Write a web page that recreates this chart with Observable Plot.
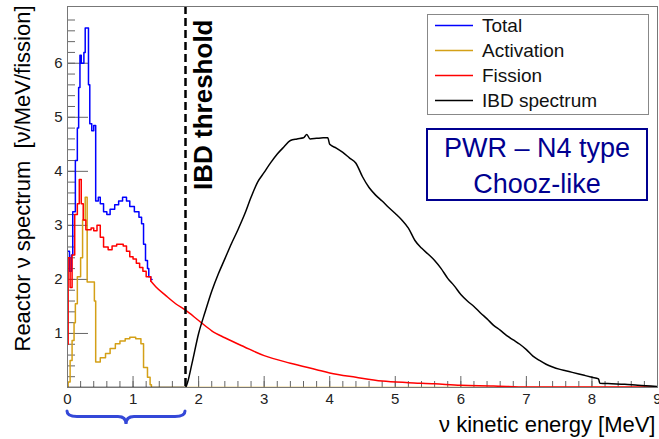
<!DOCTYPE html>
<html><head><meta charset="utf-8">
<script src="https://cdn.jsdelivr.net/npm/d3@7"></script>
<script src="https://cdn.jsdelivr.net/npm/@observablehq/plot@0.6"></script>
<style>html,body{margin:0;padding:0;background:#fff;} #chart{width:659px;height:439px;overflow:hidden;}</style>
</head><body><div id="chart"></div>
<script>
// ---- data ----
// Total spectrum (histogram, step-after) [MeV, ν/MeV/fission]
const totalSpec = [[0,2.52],[0.03,2.15],[0.06,2.45],[0.08,3.25],[0.12,4.2],[0.15,4.8],[0.17,5.55],[0.19,6.15],[0.21,6.0],[0.25,6.2],[0.27,6.65],[0.32,5.6],[0.34,4.88],[0.37,4.75],[0.4,4.85],[0.43,3.45],[0.47,3.52],[0.5,3.4],[0.55,3.25],[0.6,3.2],[0.65,3.3],[0.72,3.38],[0.78,3.45],[0.84,3.52],[0.9,3.45],[0.95,3.35],[1.02,3.25],[1.09,3.15],[1.13,3.03],[1.16,2.65],[1.19,2.35],[1.22,2.2],[1.24,2.05],[1.27,2.0],[1.29,2.0]];
// Activation spectrum (step-after)
const activationSpec = [[0,0],[0.01,0.1],[0.04,0.5],[0.07,0.87],[0.1,1.2],[0.12,1.55],[0.15,2.05],[0.2,2.4],[0.23,3.1],[0.27,3.52],[0.3,1.95],[0.41,1.6],[0.43,0.47],[0.5,0.55],[0.58,0.63],[0.65,0.72],[0.73,0.81],[0.8,0.86],[0.88,0.9],[0.95,0.93],[1.04,0.9],[1.12,0.81],[1.16,0.37],[1.22,0.19],[1.26,0.05],[1.28,0],[9,0]];
// Fission spectrum, low-energy part (step-after) and tail (smooth)
const fissionLow = [[0,0.8],[0.01,2.4],[0.04,1.85],[0.07,2.45],[0.11,3.2],[0.15,3.4],[0.18,3.85],[0.21,3.4],[0.24,3.1],[0.28,2.92],[0.36,2.95],[0.4,2.9],[0.45,3.0],[0.5,2.78],[0.55,2.6],[0.62,2.55],[0.68,2.62],[0.75,2.65],[0.85,2.62],[0.9,2.52],[0.95,2.42],[1.0,2.38],[1.05,2.3],[1.1,2.22],[1.15,2.15],[1.2,2.05],[1.27,1.97]];
const fissionTail = [[1.27,1.97],[1.35,1.86],[1.5,1.7],[1.65,1.55],[1.8,1.43],[2.0,1.24],[2.2,1.05],[2.4,0.92],[2.7,0.75],[3.0,0.59],[3.4,0.45],[3.8,0.33],[4.0,0.27],[4.4,0.19],[4.8,0.12],[5.2,0.09],[5.6,0.07],[6.0,0.04],[6.5,0.03],[7.0,0.01],[9,0.01]];
// IBD spectrum (arbitrary units)
const ibdSpec = [[0,0],[1.8,0],[1.82,0.05],[1.9,0.45],[2.0,1.0],[2.1,1.4],[2.2,1.78],[2.3,2.1],[2.4,2.38],[2.5,2.66],[2.6,2.92],[2.7,3.2],[2.8,3.52],[2.9,3.8],[3.0,3.98],[3.1,4.16],[3.2,4.32],[3.3,4.45],[3.4,4.57],[3.5,4.6],[3.6,4.62],[3.65,4.68],[3.7,4.6],[3.8,4.61],[3.9,4.62],[3.97,4.62],[4.0,4.5],[4.1,4.43],[4.2,4.35],[4.3,4.25],[4.4,4.15],[4.5,3.9],[4.6,3.7],[4.7,3.56],[4.8,3.45],[4.9,3.33],[5.0,3.22],[5.1,3.1],[5.2,2.95],[5.3,2.72],[5.4,2.58],[5.5,2.47],[5.6,2.35],[5.7,2.2],[5.8,2.02],[5.9,1.88],[6.0,1.72],[6.1,1.6],[6.2,1.5],[6.3,1.38],[6.4,1.27],[6.5,1.15],[6.6,1.06],[6.7,0.96],[6.8,0.88],[6.9,0.8],[7.0,0.7],[7.1,0.58],[7.2,0.5],[7.3,0.43],[7.4,0.38],[7.5,0.34],[7.6,0.31],[7.7,0.28],[7.8,0.25],[7.9,0.22],[8.0,0.19],[8.1,0.16],[8.12,0.08],[8.3,0.07],[8.5,0.06],[8.7,0.04],[9.0,0.02]];
const threshold = [1.8];
const thresholdLabel = "IBD threshold";
const xTicks = [0,1,2,3,4,5,6,7,8,9];
const yTicks = [1,2,3,4,5,6];
const xMinor = d3.range(0, 9.001, 0.2);
const yMinor = d3.range(0.2, 7.0, 0.2);
const legendNames = ["Total","Activation","Fission","IBD spectrum"];
const legendColors = ["#0000ff","#d4a017","#ff0000","#000000"];
const boxLines = ["PWR \u2013 N4 type","Chooz-like"];
const xLabel = "\u03bd kinetic energy [MeV]";
const yLabel = "Reactor \u03bd spectrum  [\u03bd/MeV/fission]";

// ---- layout ----
const W = 659, H = 439, mL = 67, mR = 2, mT = 6, mB = 52;
const pw = W - mL - mR, ph = H - mT - mB;
const font = "'Liberation Sans', Arial, Helvetica, sans-serif";

const plot = Plot.plot({
  width: W, height: H,
  marginLeft: mL, marginRight: mR, marginTop: mT, marginBottom: mB,
  x: {domain: [0, 9]},
  y: {domain: [0, 7.05]},
  style: {fontFamily: font, background: "white", color: "#111"},
  marks: [
    Plot.ruleX(xMinor, {x: d => d, insetTop: ph - 6, stroke: "#666"}),
    Plot.ruleX(xTicks, {x: d => d, insetTop: ph - 11, stroke: "#666"}),
    Plot.ruleY(yMinor, {y: d => d, insetRight: pw - 8, stroke: "#666"}),
    Plot.ruleY(yTicks, {y: d => d, insetRight: pw - 21, stroke: "#666"}),
    Plot.axisX({ticks: xTicks, tickSize: 0, tickPadding: 6, fontSize: 15, label: null, fill: "#222", tickFormat: d => String(d)}),
    Plot.axisY({ticks: yTicks, tickSize: 0, tickPadding: 5, fontSize: 15, label: null, fill: "#222", tickFormat: d => String(d)}),
    Plot.line(totalSpec, {x: d => d[0], y: d => d[1], curve: "step-after", stroke: legendColors[0], strokeWidth: 1.5, clip: true}),
    Plot.line(activationSpec, {x: d => d[0], y: d => d[1], curve: "step-after", stroke: legendColors[1], strokeWidth: 1.5, clip: true}),
    Plot.line(fissionLow, {x: d => d[0], y: d => d[1], curve: "step-after", stroke: legendColors[2], strokeWidth: 1.5, clip: true}),
    Plot.line(fissionTail, {x: d => d[0], y: d => d[1], curve: "monotone-x", stroke: legendColors[2], strokeWidth: 1.5, clip: true}),
    Plot.line(ibdSpec, {x: d => d[0], y: d => d[1], curve: "monotone-x", stroke: legendColors[3], strokeWidth: 1.5, clip: true}),
    Plot.ruleX(threshold, {x: d => d, stroke: "black", strokeWidth: 2.5, strokeDasharray: "8,4"}),
    Plot.text(threshold, {x: d => d, frameAnchor: "top", text: () => thresholdLabel, rotate: -90, textAnchor: "end", lineAnchor: "middle", dx: 18, dy: 13, fontSize: 26, fontWeight: "bold", fill: "black"}),
    Plot.text([yLabel], {frameAnchor: "top-left", text: d => d, rotate: -90, textAnchor: "end", lineAnchor: "middle", dx: -45, dy: -1, fontSize: 22, fill: "black"}),
    Plot.text([xLabel], {frameAnchor: "bottom-right", text: d => d, textAnchor: "end", lineAnchor: "middle", dx: -2, dy: 37, fontSize: 22, fill: "black"}),
    Plot.frame({stroke: "#777"})
  ]
});

document.getElementById("chart").appendChild(plot);

// ---- legend, label box and brace (positioned via plot scales / pixels) ----
const svg = d3.select(plot);
const lg = svg.append("g").attr("font-family", font).attr("text-anchor", "start");
lg.append("rect").attr("x", 427.5).attr("y", 14.5).attr("width", 221).attr("height", 100)
  .attr("fill", "white").attr("stroke", "#888");
legendNames.forEach((n, i) => {
  const y = 25.5 + i * 25;
  lg.append("line").attr("x1", 435).attr("x2", 473).attr("y1", y).attr("y2", y)
    .attr("stroke", legendColors[i]).attr("stroke-width", 1.5);
  lg.append("text").attr("x", 482).attr("y", y).attr("dy", "0.35em")
    .attr("font-size", 19).attr("fill", "#111").text(n);
});
const bg = svg.append("g").attr("font-family", font);
bg.append("rect").attr("x", 427).attr("y", 129).attr("width", 220).attr("height", 71)
  .attr("fill", "white").attr("stroke", "#000090").attr("stroke-width", 2);
boxLines.forEach((t, i) => {
  bg.append("text").attr("x", 537).attr("y", 157 + i * 36).attr("text-anchor", "middle")
    .attr("font-size", 27).attr("fill", "#000090").text(t);
});
const xs = plot.scale("x");
const x0 = xs.apply(0), x1 = xs.apply(threshold[0]), xm = (x0 + x1) / 2;
const yt = 411, yh = 416.5, yb = 424;
svg.append("path")
  .attr("d", `M${x0},${yt} Q${x0},${yh} ${x0 + 10},${yh} L${xm - 8},${yh} Q${xm},${yh} ${xm},${yb} Q${xm},${yh} ${xm + 8},${yh} L${x1 - 10},${yh} Q${x1},${yh} ${x1},${yt}`)
  .attr("fill", "none").attr("stroke", "#3448d8").attr("stroke-width", 3).attr("stroke-linecap", "round");
</script>
</body></html>
